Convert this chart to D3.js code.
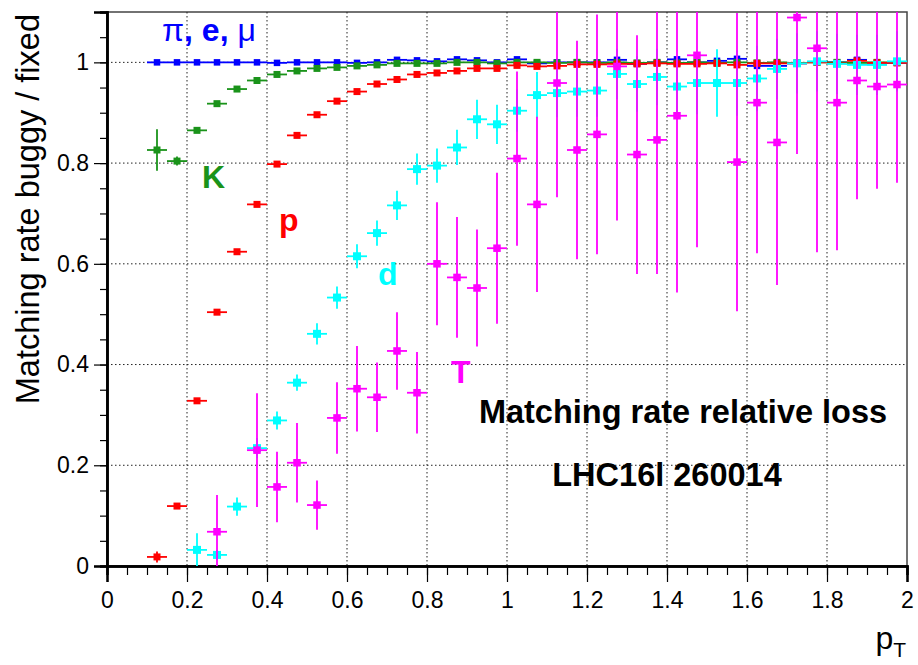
<!DOCTYPE html>
<html>
<head>
<meta charset="utf-8">
<script src="https://cdn.jsdelivr.net/npm/d3@7/dist/d3.min.js"></script>
<style>
  html, body { margin: 0; padding: 0; background: #fff; }
  svg { display: block; font-family: "Liberation Sans", Arial, Helvetica, sans-serif; }
</style>
</head>
<body>
<svg id="chart" width="918" height="665"></svg>
<script>
// pT bin centres (bin width 0.05)
const ptBins = [0.125, 0.175, 0.225, 0.275, 0.325, 0.375, 0.425, 0.475, 0.525, 0.575,
                0.625, 0.675, 0.725, 0.775, 0.825, 0.875, 0.925, 0.975, 1.025, 1.075,
                1.125, 1.175, 1.225, 1.275, 1.325, 1.375, 1.425, 1.475, 1.525, 1.575,
                1.625, 1.675, 1.725, 1.775, 1.825, 1.875, 1.925, 1.975];
const binHalfWidth = 0.025;

// π, e, μ
const pionValues = [1.000, 1.000, 1.000, 1.000, 1.000, 1.000, 0.999, 1.000, 1.000, 1.000,
                    0.999, 1.000, 1.005, 1.004, 1.002, 1.006, 1.004, 1.000, 1.006, 0.998,
                    1.000, 1.000, 1.000, 1.005, 0.997, 1.000, 1.006, 1.000, 1.003, 1.007,
                    0.993, 0.993, 0.998, 1.001, 1.000, 1.005, 0.996, 0.999];
const pionErrors = [0.002, 0.001, 0.001, 0.001, 0.001, 0.001, 0.001, 0.001, 0.001, 0.001,
                    0.001, 0.001, 0.002, 0.002, 0.002, 0.002, 0.002, 0.002, 0.002, 0.002,
                    0.002, 0.002, 0.003, 0.003, 0.003, 0.003, 0.003, 0.003, 0.003, 0.004,
                    0.004, 0.004, 0.004, 0.004, 0.004, 0.005, 0.005, 0.005];

// K
const kaonValues = [0.826, 0.804, 0.865, 0.918, 0.947, 0.964, 0.976, 0.983, 0.988, 0.990,
                    0.993, 0.995, 0.998, 0.998, 0.998, 1.000, 1.000, 0.998, 1.000, 1.000,
                    0.999, 1.000, 0.999, 1.000, 0.999, 1.000, 0.999, 1.000, 0.999, 1.000,
                    0.999, 1.000, 0.999, 1.000, 1.000, 0.999, 1.000, 1.000];
const kaonErrors = [0.041, 0.009, 0.005, 0.004, 0.003, 0.003, 0.003, 0.003, 0.003, 0.003,
                    0.003, 0.003, 0.003, 0.003, 0.003, 0.003, 0.003, 0.003, 0.003, 0.003,
                    0.003, 0.003, 0.003, 0.003, 0.003, 0.004, 0.004, 0.004, 0.004, 0.004,
                    0.004, 0.004, 0.004, 0.005, 0.005, 0.005, 0.005, 0.005];

// p
const protonValues = [0.018, 0.119, 0.328, 0.504, 0.624, 0.718, 0.798, 0.855, 0.896, 0.923,
                      0.942, 0.957, 0.966, 0.976, 0.979, 0.983, 0.988, 0.988, 0.994, 0.992,
                      0.993, 0.996, 0.996, 0.997, 0.997, 0.998, 0.997, 0.997, 0.998, 0.995,
                      0.998, 0.998, 0.998, 1.000, 0.998, 1.003, 0.999, 0.999];
const protonErrors = [0.011, 0.005, 0.004, 0.004, 0.004, 0.004, 0.004, 0.004, 0.004, 0.004,
                      0.004, 0.004, 0.004, 0.004, 0.004, 0.004, 0.004, 0.004, 0.004, 0.004,
                      0.004, 0.004, 0.005, 0.005, 0.005, 0.005, 0.005, 0.005, 0.006, 0.006,
                      0.006, 0.006, 0.007, 0.007, 0.007, 0.008, 0.008, 0.008];

// d
const deuteronValues = [null, null, 0.032, 0.022, 0.118, 0.234, 0.289, 0.364, 0.461, 0.533,
                        0.615, 0.661, 0.716, 0.788, 0.795, 0.831, 0.887, 0.877, 0.904, 0.935,
                        0.939, 0.942, 0.944, 0.977, 0.957, 0.971, 0.952, 0.959, 0.959, 0.959,
                        0.968, 0.987, 0.998, 1.002, 0.997, 0.995, 0.995, 1.002];
const deuteronErrors = [null, null, 0.033, 0.010, 0.018, 0.020, 0.018, 0.016, 0.021, 0.022,
                        0.024, 0.025, 0.029, 0.031, 0.034, 0.035, 0.039, 0.039, 0.042, 0.046,
                        0.048, 0.050, 0.052, 0.050, 0.055, 0.056, 0.060, 0.062, 0.067, 0.065,
                        0.065, 0.060, 0.060, 0.060, 0.060, 0.060, 0.060, 0.060];

// T
const tritonValues = [null, null, null, 0.068, null, 0.230, 0.157, 0.205, 0.121, 0.294,
                      0.352, 0.335, 0.427, 0.344, 0.600, 0.573, 0.552, 0.631, 0.809, 0.718,
                      0.959, 0.826, 0.857, 0.992, 0.817, 0.846, 0.894, 1.014, null, 0.802,
                      0.920, 0.841, 1.089, 1.028, 0.920, 0.964, 0.952, 0.956];
const tritonErrors = [null, null, null, 0.073, null, 0.113, 0.070, 0.079, 0.049, 0.071,
                      0.085, 0.069, 0.077, 0.081, 0.122, 0.120, 0.116, 0.150, 0.173, 0.174,
                      0.227, 0.217, 0.238, 0.306, 0.237, 0.266, 0.351, 0.381, null, 0.296,
                      0.299, 0.283, 0.271, 0.405, 0.293, 0.236, 0.203, 0.195];

// Axis ticks
const xMajorTicks = [0, 0.2, 0.4, 0.6, 0.8, 1, 1.2, 1.4, 1.6, 1.8, 2];
const yMajorTicks = [0, 0.2, 0.4, 0.6, 0.8, 1];

const svg = d3.select("#chart");
const frameLeft = 107, frameRight = 907, frameTop = 12, frameBottom = 566;

const x = d3.scaleLinear().domain([0, 2]).range([frameLeft, frameRight]);
const y = d3.scaleLinear().domain([0, 1.1]).range([frameBottom, frameTop]);

// Frame
svg.append("rect")
  .attr("x", frameLeft).attr("y", frameTop)
  .attr("width", frameRight - frameLeft).attr("height", frameBottom - frameTop)
  .attr("fill", "#fff").attr("stroke", "#444").attr("stroke-width", 1.5);

// Dotted grid at the major ticks
const grid = svg.append("g").attr("stroke", "#222").attr("stroke-width", 1)
  .attr("stroke-dasharray", "1.5,2.5");
xMajorTicks.filter(t => t > 0 && t < 2).forEach(t => {
  grid.append("line").attr("x1", x(t)).attr("x2", x(t)).attr("y1", frameTop).attr("y2", frameBottom);
});
yMajorTicks.filter(t => t > 0).forEach(t => {
  grid.append("line").attr("x1", frameLeft).attr("x2", frameRight).attr("y1", y(t)).attr("y2", y(t));
});

// Axes
const xMinor = d3.range(0, 2.0001, 0.05);
const yMinor = d3.range(0, 1.1001, 0.05);

const xAxisMinor = svg.append("g").attr("transform", `translate(0,${frameBottom})`)
  .call(d3.axisBottom(x).tickValues(xMinor).tickSize(9).tickFormat(""));
const xAxis = svg.append("g").attr("transform", `translate(0,${frameBottom})`)
  .call(d3.axisBottom(x).tickValues(xMajorTicks).tickSize(16).tickPadding(10)
    .tickFormat(d => d3.format("")(+d.toFixed(1))));
const yAxisMinor = svg.append("g").attr("transform", `translate(${frameLeft},0)`)
  .call(d3.axisLeft(y).tickValues(yMinor).tickSize(7).tickFormat(""));
const yAxis = svg.append("g").attr("transform", `translate(${frameLeft},0)`)
  .call(d3.axisLeft(y).tickValues(yMajorTicks).tickSize(13).tickPadding(5)
    .tickFormat(d => d3.format("")(+d.toFixed(1))));

[xAxisMinor, xAxis, yAxisMinor, yAxis].forEach(g => {
  g.select(".domain").attr("stroke", "#000").attr("stroke-width", 2.5);
  g.selectAll(".tick line").attr("stroke", "#000").attr("stroke-width", 1.2);
});
xAxis.selectAll(".tick text").attr("font-size", 23).attr("fill", "#000")
  .attr("font-family", "Liberation Sans, Arial, sans-serif");
yAxis.selectAll(".tick text").attr("font-size", 23).attr("fill", "#000")
  .attr("font-family", "Liberation Sans, Arial, sans-serif");

// Axis titles
svg.append("text")
  .attr("transform", `translate(39,14) rotate(-90)`)
  .attr("text-anchor", "end").attr("font-size", 32.5).attr("fill", "#000")
  .text("Matching rate buggy / fixed");

const ptTitle = svg.append("text").attr("x", 906).attr("y", 649).attr("text-anchor", "end")
  .attr("font-size", 32).attr("fill", "#000");
ptTitle.append("tspan").text("p");
ptTitle.append("tspan").attr("font-size", 21).attr("dy", 8).text("T");

// Plot area clip
svg.append("clipPath").attr("id", "plotClip").append("rect")
  .attr("x", frameLeft).attr("y", frameTop)
  .attr("width", frameRight - frameLeft).attr("height", frameBottom - frameTop);

const plot = svg.append("g").attr("clip-path", "url(#plotClip)");

function drawSeries(values, errors, color, markerSize, lineWidth) {
  const pts = ptBins.map((p, i) => ({ p, v: values[i], e: errors[i] })).filter(d => d.v !== null);
  const g = plot.append("g");
  g.selectAll("line.h").data(pts).join("line").attr("class", "h")
    .attr("x1", d => x(d.p - binHalfWidth)).attr("x2", d => x(d.p + binHalfWidth))
    .attr("y1", d => y(d.v)).attr("y2", d => y(d.v))
    .attr("stroke", color).attr("stroke-width", lineWidth);
  g.selectAll("line.v").data(pts).join("line").attr("class", "v")
    .attr("x1", d => x(d.p)).attr("x2", d => x(d.p))
    .attr("y1", d => y(d.v - d.e)).attr("y2", d => y(d.v + d.e))
    .attr("stroke", color).attr("stroke-width", lineWidth);
  g.selectAll("rect").data(pts).join("rect")
    .attr("x", d => x(d.p) - markerSize / 2).attr("y", d => y(d.v) - markerSize / 2)
    .attr("width", markerSize).attr("height", markerSize)
    .attr("fill", color);
}

drawSeries(pionValues, pionErrors, "#0000ff", 6.5, 1.8);
drawSeries(kaonValues, kaonErrors, "#1a931a", 7, 1.8);
drawSeries(protonValues, protonErrors, "#ff0000", 7, 1.8);
drawSeries(deuteronValues, deuteronErrors, "#00ffff", 8, 1.8);
drawSeries(tritonValues, tritonErrors, "#ff00ff", 7.5, 1.8);

// Species labels
const lbl = svg.append("g").attr("font-weight", "bold").attr("font-size", 32);
const pie = lbl.append("text").attr("x", 162).attr("y", 41).attr("fill", "#0000ff");
pie.append("tspan").attr("font-weight", "normal").text("π");
pie.append("tspan").text(", e, ");
pie.append("tspan").attr("font-weight", "normal").text("μ");
lbl.append("text").attr("x", 202).attr("y", 188).attr("fill", "#1a931a").text("K");
lbl.append("text").attr("x", 279).attr("y", 231).attr("fill", "#ff0000").text("p");
lbl.append("text").attr("x", 378).attr("y", 285).attr("fill", "#00ffff").text("d");
lbl.append("text").attr("x", 451).attr("y", 383).attr("fill", "#ff00ff").text("T");

lbl.append("text").attr("x", 683).attr("y", 423).attr("text-anchor", "middle")
  .attr("font-size", 32.5).attr("fill", "#000").text("Matching rate relative loss");
lbl.append("text").attr("x", 667).attr("y", 486).attr("text-anchor", "middle")
  .attr("font-size", 32.5).attr("fill", "#000").text("LHC16l 260014");
</script>
</body>
</html>
